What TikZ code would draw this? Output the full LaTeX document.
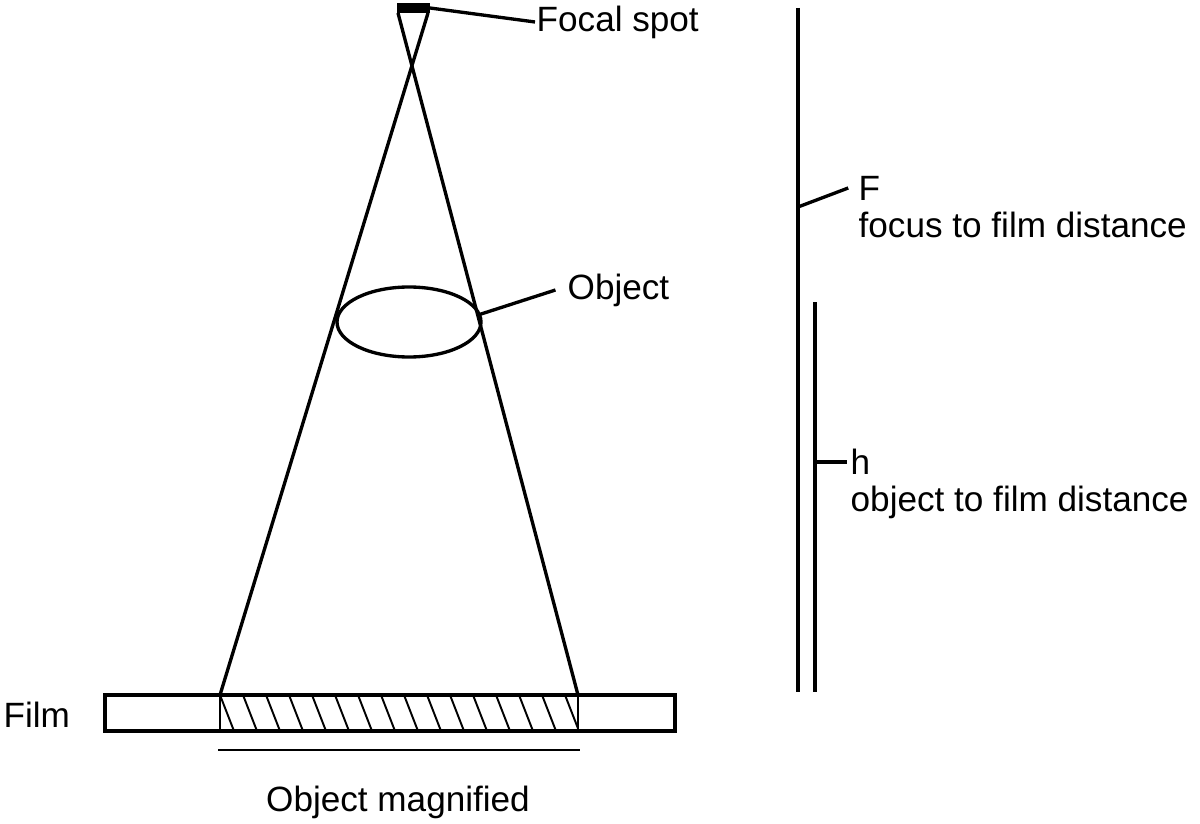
\documentclass[tikz,border=0pt]{standalone}
\usepackage{fontspec}
\setmainfont{Liberation Sans}
\tikzset{
  lbl/.style={inner sep=0pt, font=\fontsize{20}{24}\selectfont},
  ray/.style={line width=1.9pt},
  thin/.style={line width=1.1pt}
}
\begin{document}
\begin{tikzpicture}[x=0.02cm, y=-0.02cm, line width=1.9pt]
  \useasboundingbox (0,0) rectangle (1200,824);
  % focal spot and rays
  \fill (397,3) rectangle (430,13);
  \coordinate (fl) at (398,13);
  \coordinate (fr) at (428,13);
  \coordinate (bl) at (220,695);
  \coordinate (br) at (578,695);
  \draw[ray] (fl) -- (br);
  \draw[ray] (fr) -- (bl);
  % film with hatched image
  \draw[ray] (105,695) rectangle (675,731);
  \draw[thin] (bl) -- (220,731);
  \draw[thin] (br) -- (578,731);
  \begin{scope}
    \clip (220,695) rectangle (578,731);
    \foreach \x in {220,243,...,600}
      \draw[thin] (\x,695) -- (\x+14,731);
  \end{scope}
  \coordinate (ml) at (218,750);
  \coordinate (mr) at (580,750);
  \draw[thin] (ml) -- (mr);
  % object
  \draw[ray] (409,322) ellipse (72 and 35);
  \coordinate (oe) at (478,315);
  % labels
  \node[lbl, anchor=west] (spot) at (535,22) {Focal spot};
  \draw[ray] (430,8) -- (spot.west);
  \node[lbl, anchor=west] (obj) at (566,290) {Object};
  \draw[ray] (oe) -- ([xshift=-6pt]obj.west);
  \node[lbl, anchor=west] (film) at (2,715) {Film};
  \node[lbl] (mag) at (398,802) {Object magnified};
  % distances
  \coordinate (ft) at (798,8);
  \coordinate (fb) at (798,692);
  \coordinate (ht) at (815,302);
  \coordinate (hb) at (815,692);
  \draw[ray] (ft) -- (fb);
  \draw[ray] (ht) -- (hb);
  \node[lbl, anchor=west] (F) at (857,188) {F};
  \node[lbl, anchor=west] (Fd) at (857,225) {focus to film distance};
  \draw[ray] (798,207) -- ([xshift=-5pt]F.west);
  \node[lbl, anchor=west] (h) at (849,462) {h};
  \node[lbl, anchor=west] (hd) at (849,502) {object to film distance};
  \draw[ray] (815,462) -- ([xshift=-1pt]h.west);
\end{tikzpicture}
\end{document}
